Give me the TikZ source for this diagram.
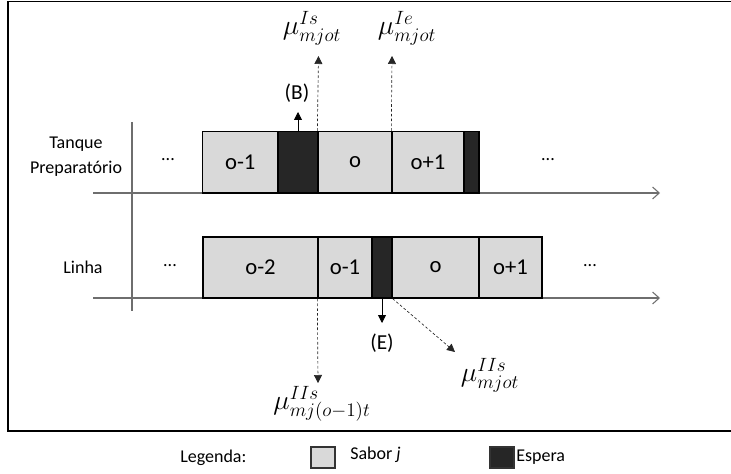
\documentclass[tikz,border=0pt]{standalone}
\usepackage{fontspec}
\setmainfont{Carlito}
\usetikzlibrary{arrows.meta}

\definecolor{flavour}{HTML}{D9D9D9}
\definecolor{waiting}{HTML}{262626}
\definecolor{axisgray}{HTML}{6E6E6E}

\newcommand{\pxu}{0.75pt}

\tikzset{
  seg/.style={draw=black, line width=1pt, fill=flavour, inner sep=0pt,
    font=\fontsize{17}{19}\selectfont},
  waitseg/.style={seg, fill=waiting},
  lbl/.style={font=\fontsize{13.5}{16}\selectfont, align=center, inner sep=0pt},
  evlbl/.style={font=\fontsize{16}{18}\selectfont, inner sep=0pt},
  mulbl/.style={font=\fontsize{20}{22}\selectfont, inner sep=0pt},
  timeaxis/.style={draw=axisgray, line width=0.8pt, -{Straight Barb[length=5pt,width=9pt]}},
  solidarrow/.style={draw=black, line width=0.6pt, -{Triangle[length=6pt,width=6pt]}},
  dasharrow/.style={draw=black!85, line width=0.5pt, dash pattern=on 2pt off 1.6pt,
    -{Triangle[length=6pt,width=6pt]}},
  legbox/.style={draw=black!80, line width=0.8pt, inner sep=0pt,
    minimum width=24*\pxu, minimum height=21*\pxu},
}

\begin{document}
\begin{tikzpicture}[x=0.75pt, y=-0.75pt]
  \useasboundingbox (0,0) rectangle (731,474);

  % outer frame (open on the right)
  \draw[line width=1.2pt] (731,1.5) -- (8,1.5) -- (8,431) -- (731,431);

  % time axes
  \coordinate (vtop) at (132,122);
  \coordinate (vbot) at (132,311);
  \draw[draw=axisgray, line width=0.8pt] (vtop) -- (vbot);
  \coordinate (ta0) at (93,193);
  \coordinate (ta1) at (660,193);
  \coordinate (la0) at (93,298);
  \coordinate (la1) at (660,298);
  \draw[timeaxis] (ta0) -- (ta1);
  \draw[timeaxis] (la0) -- (la1);

  % row labels
  \node[lbl] (tanklbl) at (76,157) {Tanque\\[3pt]Preparatório};
  \node[lbl] (linelbl) at (83,267) {Linha};

  % preparation tank sequence
  \node[seg, minimum width=75.5*\pxu, minimum height=61.5*\pxu] (t1) at (240.25,162.25) {o-1};
  \node[waitseg, minimum width=40*\pxu, minimum height=61.5*\pxu] (tw1) at (298,162.25) {};
  \node[seg, minimum width=74*\pxu, minimum height=61.5*\pxu] (t2) at (355,162.25) {o};
  \node[seg, minimum width=72*\pxu, minimum height=61.5*\pxu] (t3) at (428,162.25) {o+1};
  \node[waitseg, minimum width=15*\pxu, minimum height=61.5*\pxu] (tw2) at (471.5,162.25) {};
  \node[lbl] (tdl) at (168,160) {...};
  \node[lbl] (tdr) at (548,160) {...};

  % filling line sequence
  \node[seg, minimum width=115*\pxu, minimum height=61*\pxu] (l1) at (260.5,267.5) {o-2};
  \node[seg, minimum width=54*\pxu, minimum height=61*\pxu] (l2) at (345,267.5) {o-1};
  \node[waitseg, minimum width=20*\pxu, minimum height=61*\pxu] (lw) at (382,267.5) {};
  \node[seg, minimum width=87*\pxu, minimum height=61*\pxu] (l3) at (435.5,267.5) {o};
  \node[seg, minimum width=63*\pxu, minimum height=61*\pxu] (l4) at (510.5,267.5) {o+1};
  \node[lbl] (ldl) at (170,266) {...};
  \node[lbl] (ldr) at (590,266) {...};

  % events on the tank
  \coordinate (bend) at (298,112);
  \draw[solidarrow] (tw1.north) -- (bend);
  \node[evlbl] (blbl) at (297,93) {(B)};

  \coordinate (isend) at (318.5,56);
  \draw[dasharrow] (t2.north west) -- (isend);
  \node[mulbl] (mulIs) at (312,28) {$\mu^{Is}_{mjot}$};

  \coordinate (ieend) at (392,56);
  \draw[dasharrow] (t3.north west) -- (ieend);
  \node[mulbl] (mulIe) at (407,28) {$\mu^{Ie}_{mjot}$};

  % events on the line
  \coordinate (iisend) at (318,383);
  \draw[dasharrow] (l2.south west) -- (iisend);
  \node[mulbl] (mulIIa) at (322,404) {$\mu^{IIs}_{mj(o-1)t}$};

  \coordinate (eend) at (382,323);
  \draw[solidarrow] (lw.south) -- (eend);
  \node[evlbl] (elbl) at (382,343) {(E)};

  \coordinate (diagend) at (455,352);
  \draw[dasharrow] (lw.south east) -- (diagend);
  \node[mulbl] (mulIIb) at (490,375) {$\mu^{IIs}_{mjot}$};

  % legend
  \node[lbl, anchor=west] (leg) at (180,458) {Legenda:};
  \node[legbox, fill=flavour] (legflav) at (323,457.5) {};
  \node[lbl, anchor=west] (legflavtxt) at (350,455) {Sabor \textit{j}};
  \node[legbox, fill=waiting] (legwait) at (502,457.5) {};
  \node[lbl, anchor=west] (legwaittxt) at (516,457) {Espera};
\end{tikzpicture}
\end{document}
